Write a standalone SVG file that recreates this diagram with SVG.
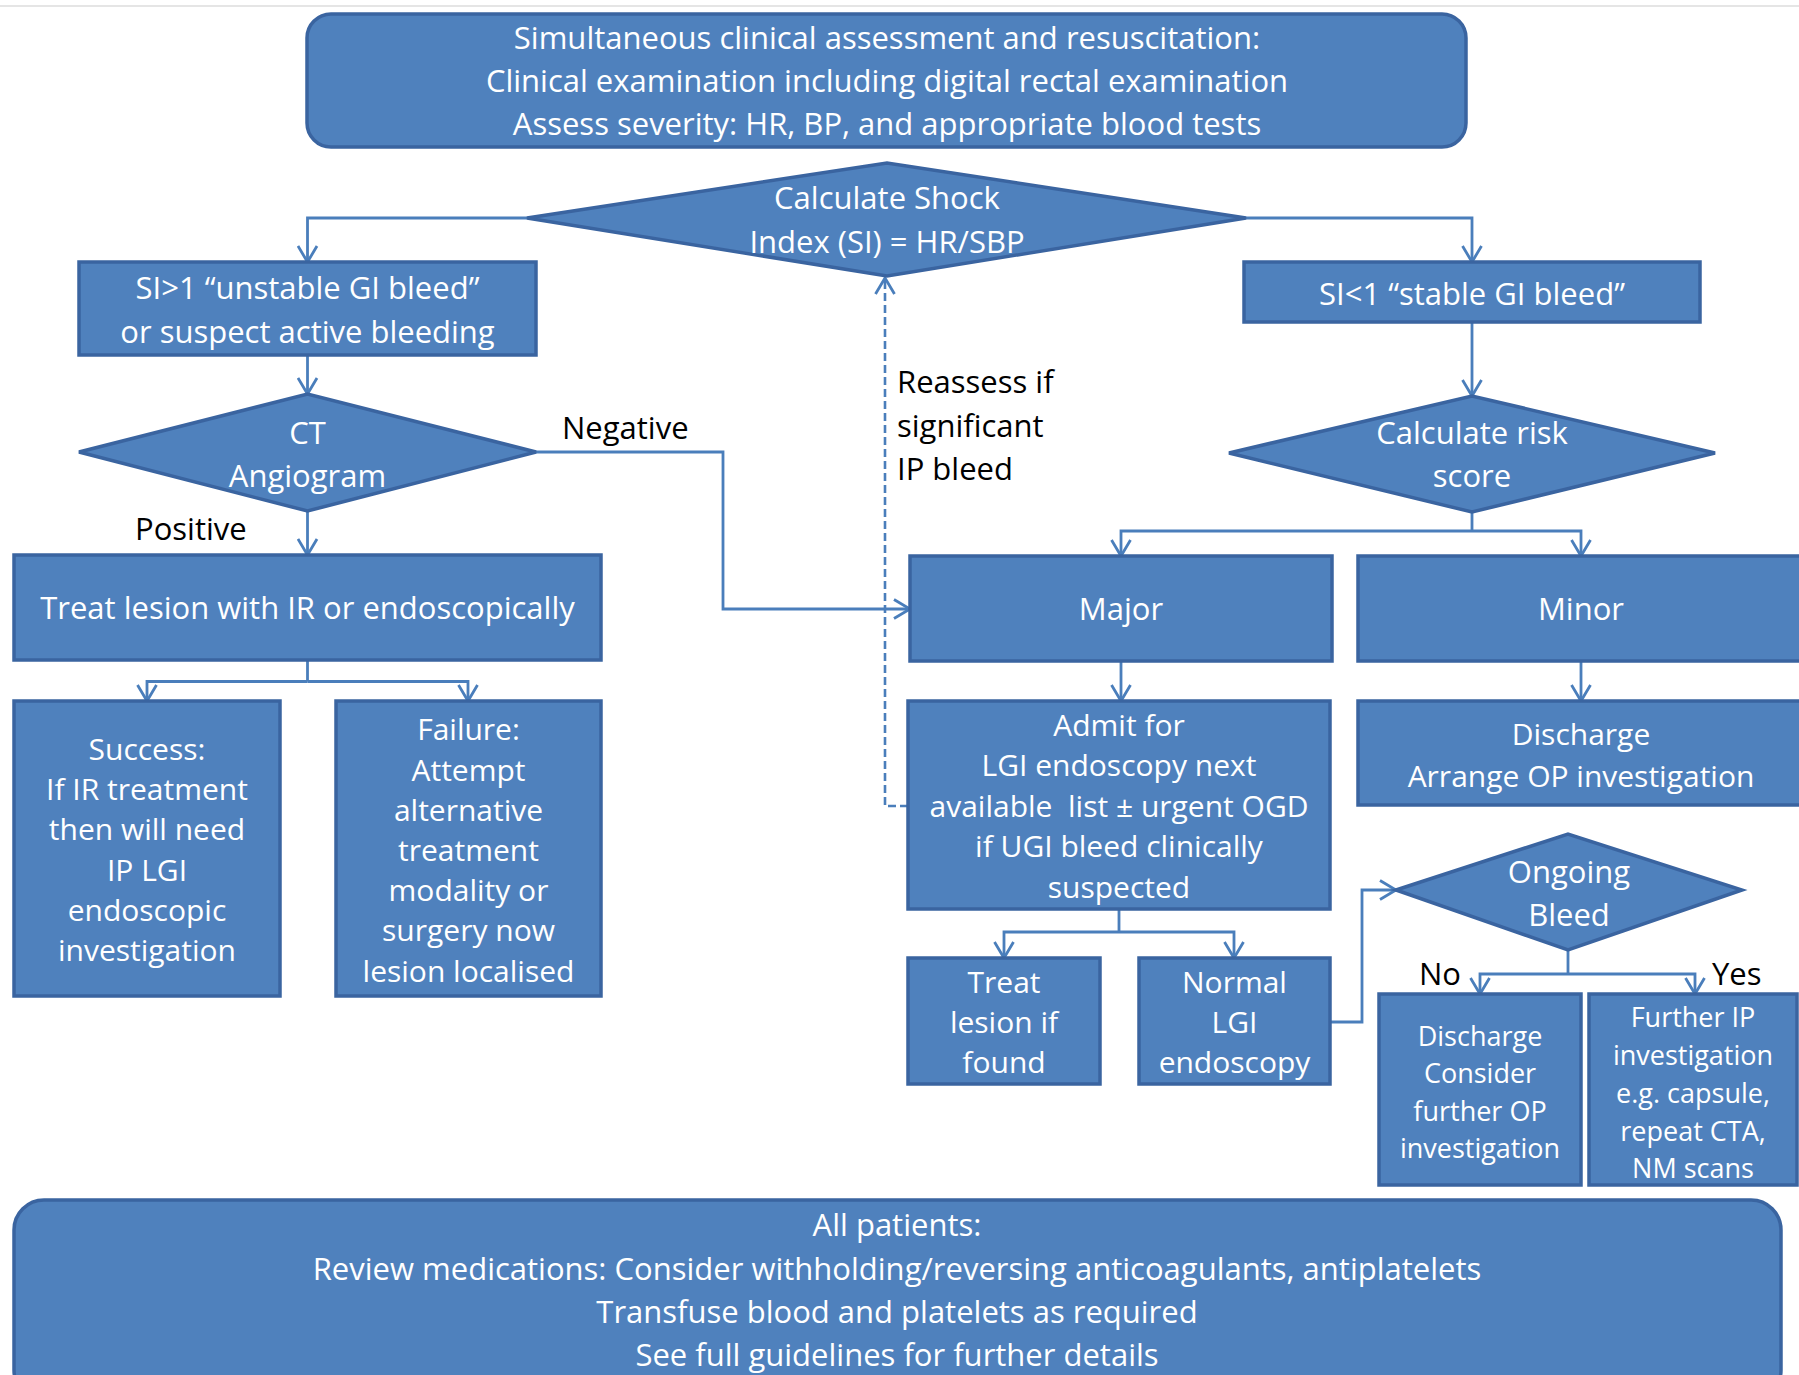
<svg xmlns="http://www.w3.org/2000/svg" width="1799" height="1375" viewBox="0 0 1799 1375">
<style>
.box{fill:#4F81BD;stroke:#3A64A0;stroke-width:3.5}
.t{font-family:"Open Sans","Liberation Sans",sans-serif;font-size:30px;fill:#FFFFFF;text-anchor:middle}
.big{font-size:31px}
.sm{font-size:27px}
.lbl{font-family:"Open Sans","Liberation Sans",sans-serif;font-size:31px;fill:#000000}
.c{fill:none;stroke:#4A7EBB;stroke-width:2.8;marker-end:url(#arr)}
.cn{fill:none;stroke:#4A7EBB;stroke-width:2.8}
.d{fill:none;stroke:#4A7EBB;stroke-width:2.6;stroke-dasharray:8 4;marker-end:url(#arr)}
</style>
<defs>
<marker id="arr" viewBox="0 0 18 22" refX="17" refY="11" markerWidth="18" markerHeight="22" markerUnits="userSpaceOnUse" orient="auto">
<path d="M1,1.5 L17,11 L1,20.5" fill="none" stroke="#4A7EBB" stroke-width="2.8"/>
</marker>
</defs>
<rect width="1799" height="1375" fill="#FFFFFF"/>
<line x1="0" y1="6" x2="1799" y2="6" stroke="#DDDDDD" stroke-width="1.5"/>

<g id="connectors">
<path class="c" d="M527,218 H307.5 V262"/>
<path class="c" d="M1246,218 H1472 V262"/>
<path class="c" d="M307.5,355 V394"/>
<path class="c" d="M536,452 H723 V609 H910"/>
<path class="c" d="M307.5,511 V555"/>
<path class="cn" d="M307.5,660 V681.5"/>
<path class="c" d="M307.5,681.5 H147 V701"/>
<path class="c" d="M307.5,681.5 H468 V701"/>
<path class="c" d="M1472,322 V396"/>
<path class="cn" d="M1472,512 V531"/>
<path class="c" d="M1472,531 H1121 V556"/>
<path class="c" d="M1472,531 H1581 V556"/>
<path class="c" d="M1121,661 V701"/>
<path class="c" d="M1581,661 V701"/>
<path class="d" d="M908,806 H885 V278"/>
<path class="cn" d="M1119,909 V932"/>
<path class="c" d="M1119,932 H1004 V958"/>
<path class="c" d="M1119,932 H1234 V958"/>
<path class="c" d="M1330,1022 H1362 V890 H1396"/>
<path class="cn" d="M1568,950 V974"/>
<path class="c" d="M1568,974 H1480 V994"/>
<path class="c" d="M1568,974 H1695 V994"/>
</g>

<g id="n-top">
<rect class="box" x="307" y="14" width="1159" height="133" rx="24"/>
<text class="t big" x="887" y="49">Simultaneous clinical assessment and resuscitation:</text>
<text class="t big" x="887" y="92">Clinical examination including digital rectal examination</text>
<text class="t big" x="887" y="135">Assess severity: HR, BP, and appropriate blood tests</text>
</g>

<g id="n-shock">
<polygon class="box" points="527,218 887,163 1246,218 887,276"/>
<text class="t big" x="887" y="209">Calculate Shock</text>
<text class="t big" x="887" y="253">Index (SI) = HR/SBP</text>
</g>

<g id="n-unstable">
<rect class="box" x="79" y="262" width="457" height="93"/>
<text class="t big" x="307.5" y="299">SI&gt;1 “unstable GI bleed”</text>
<text class="t big" x="307.5" y="343">or suspect active bleeding</text>
</g>

<g id="n-stable">
<rect class="box" x="1244" y="262" width="456" height="60"/>
<text class="t big" x="1472" y="305">SI&lt;1 “stable GI bleed”</text>
</g>

<g id="n-ct">
<polygon class="box" points="79,452 307.5,394 536,452 307.5,511"/>
<text class="t big" x="307.5" y="444">CT</text>
<text class="t big" x="307.5" y="487">Angiogram</text>
</g>

<g id="labels">
<text class="lbl" x="562" y="439">Negative</text>
<text class="lbl" x="135" y="540">Positive</text>
<text class="lbl" x="897" y="393">Reassess if</text>
<text class="lbl" x="897" y="437">significant</text>
<text class="lbl" x="897" y="480">IP bleed</text>
<text class="lbl" x="1419" y="985">No</text>
<text class="lbl" x="1712" y="985">Yes</text>
</g>

<g id="n-treat">
<rect class="box" x="14" y="555" width="587" height="105"/>
<text class="t big" x="307.5" y="619">Treat lesion with IR or endoscopically</text>
</g>

<g id="n-success">
<rect class="box" x="14" y="701" width="266" height="295"/>
<text class="t" x="147" y="760">Success:</text>
<text class="t" x="147" y="800">If IR treatment</text>
<text class="t" x="147" y="840">then will need</text>
<text class="t" x="147" y="881">IP LGI</text>
<text class="t" x="147" y="921">endoscopic</text>
<text class="t" x="147" y="961">investigation</text>
</g>

<g id="n-failure">
<rect class="box" x="336" y="701" width="265" height="295"/>
<text class="t" x="468.5" y="740">Failure:</text>
<text class="t" x="468.5" y="781">Attempt</text>
<text class="t" x="468.5" y="821">alternative</text>
<text class="t" x="468.5" y="861">treatment</text>
<text class="t" x="468.5" y="901">modality or</text>
<text class="t" x="468.5" y="941">surgery now</text>
<text class="t" x="468.5" y="982">lesion localised</text>
</g>

<g id="n-risk">
<polygon class="box" points="1229,453 1472,396 1715,453 1472,512"/>
<text class="t big" x="1472" y="444">Calculate risk</text>
<text class="t big" x="1472" y="487">score</text>
</g>

<g id="n-major">
<rect class="box" x="910" y="556" width="422" height="105"/>
<text class="t big" x="1121" y="620">Major</text>
</g>

<g id="n-minor">
<rect class="box" x="1358" y="556" width="446" height="105"/>
<text class="t big" x="1581" y="620">Minor</text>
</g>

<g id="n-admit">
<rect class="box" x="908" y="701" width="422" height="208"/>
<text class="t" x="1119" y="736">Admit for</text>
<text class="t" x="1119" y="776">LGI endoscopy next</text>
<text class="t" x="1119" y="817" xml:space="preserve">available  list ± urgent OGD</text>
<text class="t" x="1119" y="857">if UGI bleed clinically</text>
<text class="t" x="1119" y="898">suspected</text>
</g>

<g id="n-discharge">
<rect class="box" x="1358" y="701" width="446" height="104"/>
<text class="t" x="1581" y="745">Discharge</text>
<text class="t" x="1581" y="787">Arrange OP investigation</text>
</g>

<g id="n-treatfound">
<rect class="box" x="908" y="958" width="192" height="126"/>
<text class="t" x="1004" y="993">Treat</text>
<text class="t" x="1004" y="1033">lesion if</text>
<text class="t" x="1004" y="1073">found</text>
</g>

<g id="n-normal">
<rect class="box" x="1139" y="958" width="191" height="126"/>
<text class="t" x="1234.5" y="993">Normal</text>
<text class="t" x="1234.5" y="1033">LGI</text>
<text class="t" x="1234.5" y="1073">endoscopy</text>
</g>

<g id="n-ongoing">
<polygon class="box" points="1396,890 1568,834 1742,890 1568,950"/>
<text class="t big" x="1569" y="883">Ongoing</text>
<text class="t big" x="1569" y="926">Bleed</text>
</g>

<g id="n-dischconsider">
<rect class="box" x="1379" y="994" width="202" height="191"/>
<text class="t sm" x="1480" y="1046">Discharge</text>
<text class="t sm" x="1480" y="1083">Consider</text>
<text class="t sm" x="1480" y="1121">further OP</text>
<text class="t sm" x="1480" y="1158">investigation</text>
</g>

<g id="n-further">
<rect class="box" x="1589" y="994" width="208" height="191"/>
<text class="t sm" x="1693" y="1027">Further IP</text>
<text class="t sm" x="1693" y="1065">investigation</text>
<text class="t sm" x="1693" y="1103">e.g. capsule,</text>
<text class="t sm" x="1693" y="1141">repeat CTA,</text>
<text class="t sm" x="1693" y="1178">NM scans</text>
</g>

<g id="n-all">
<rect class="box" x="14" y="1200" width="1767" height="200" rx="30"/>
<text class="t big" x="897" y="1236">All patients:</text>
<text class="t big" x="897" y="1280">Review medications: Consider withholding/reversing anticoagulants, antiplatelets</text>
<text class="t big" x="897" y="1323">Transfuse blood and platelets as required</text>
<text class="t big" x="897" y="1366">See full guidelines for further details</text>
</g>
</svg>
